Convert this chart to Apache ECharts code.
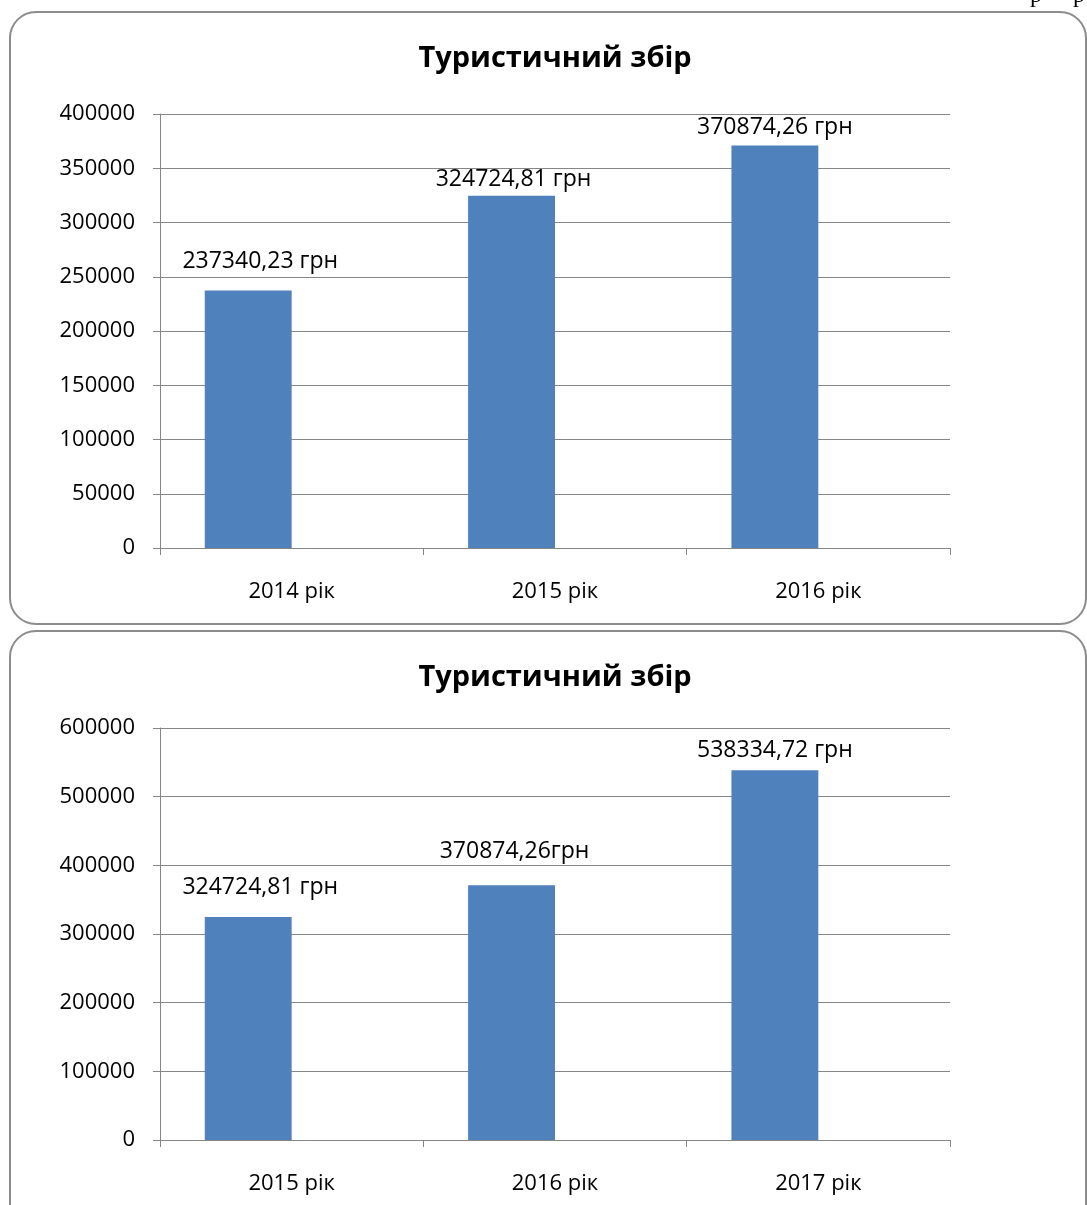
<!DOCTYPE html>
<html>
<head>
<meta charset="utf-8">
<script src="https://cdn.jsdelivr.net/npm/echarts@6/dist/echarts.min.js"></script>
<style>
html,body{margin:0;padding:0;background:#fff;}
#c{width:1087px;height:1205px;}
</style>
</head>
<body>
<div id="c"></div>
<script>
const titleText = "Туристичний збір";
const cats1 = ["2014 рік", "2015 рік", "2016 рік"];
const vals1 = [237340.23, 324724.81, 370874.26];
const labels1 = ["237340,23 грн", "324724,81 грн", "370874,26 грн"];
const cats2 = ["2015 рік", "2016 рік", "2017 рік"];
const vals2 = [324724.81, 370874.26, 538334.72];
const labels2 = ["324724,81 грн", "370874,26грн", "538334,72 грн"];
const yTicks1 = [0, 50000, 100000, 150000, 200000, 250000, 300000, 350000, 400000];
const yTicks2 = [0, 100000, 200000, 300000, 400000, 500000, 600000];

const FONT = "Open Sans";
const GRAY = "#868686";
const BAR = "#4F81BD";
// manual label nudges (as in the original chart)
const labelNudge1 = [[12, 2], [2, 15], [0, 13]];
const labelNudge2 = [[12, 2], [3, -2], [0, 12]];

const chart = echarts.init(document.getElementById('c'), null, {renderer: 'canvas'});

function yAxis(idx, ticks) {
  return {
    type: 'value', gridIndex: idx,
    min: ticks[0], max: ticks[ticks.length - 1], interval: ticks[1] - ticks[0],
    axisLine: {show: true, lineStyle: {color: GRAY, width: 1}},
    axisTick: {show: true, length: 7, lineStyle: {color: GRAY}},
    splitLine: {show: true, lineStyle: {color: GRAY, width: 1}},
    axisLabel: {color: '#000', fontFamily: FONT, fontSize: 22, margin: 25,
                formatter: v => String(v)}
  };
}
function xAxis(idx, cats) {
  return {
    type: 'category', gridIndex: idx, data: cats, boundaryGap: true,
    axisLine: {show: true, lineStyle: {color: GRAY, width: 1}},
    axisTick: {show: true, length: 7, alignWithLabel: false, interval: 0, lineStyle: {color: GRAY}},
    splitLine: {show: false},
    axisLabel: {color: '#000', fontFamily: FONT, fontSize: 22, margin: 33, interval: 0}
  };
}
function barSeries(idx, vals, labels, nudges) {
  return {
    type: 'bar', xAxisIndex: idx, yAxisIndex: idx,
    barWidth: '33%', barGap: '0%',
    itemStyle: {color: BAR},
    data: vals.map((v, i) => ({
      value: v,
      label: {offset: nudges[i]}
    })),
    label: {
      show: true, position: 'top', distance: 20,
      color: '#000', fontFamily: FONT, fontSize: 23,
      formatter: p => labels[p.dataIndex]
    }
  };
}
function emptySeries(idx, n) {
  return {
    type: 'bar', xAxisIndex: idx, yAxisIndex: idx,
    barWidth: '33%', barGap: '0%',
    data: new Array(n).fill(null), silent: true
  };
}

chart.setOption({
  animation: false,
  backgroundColor: '#fff',
  title: [
    {text: titleText, left: 555, top: 44, textAlign: 'center', padding: 0,
     textStyle: {fontFamily: FONT, fontWeight: 'bold', fontSize: 29, color: '#000'}},
    {text: titleText, left: 555, top: 663, textAlign: 'center', padding: 0,
     textStyle: {fontFamily: FONT, fontWeight: 'bold', fontSize: 29, color: '#000'}}
  ],
  grid: [
    {left: 160, width: 790, top: 114, height: 434, containLabel: false},
    {left: 160, width: 790, top: 728, height: 412, containLabel: false}
  ],
  xAxis: [xAxis(0, cats1), xAxis(1, cats2)],
  yAxis: [yAxis(0, yTicks1), yAxis(1, yTicks2)],
  series: [
    barSeries(0, vals1, labels1, labelNudge1), emptySeries(0, 3),
    barSeries(1, vals2, labels2, labelNudge2), emptySeries(1, 3)
  ],
  graphic: [
    {type: 'rect', shape: {x: 10, y: 12, width: 1076, height: 612, r: 26}, z: -1,
     style: {fill: 'none', stroke: '#8c8c8c', lineWidth: 2}},
    {type: 'rect', shape: {x: 10, y: 631, width: 1076, height: 620, r: 26}, z: -1,
     style: {fill: 'none', stroke: '#8c8c8c', lineWidth: 2}},
    {type: 'text', x: 1030, y: -16, z: 5,
     style: {text: 'р', fill: '#000', font: '24px "Liberation Serif"'}},
    {type: 'text', x: 1073, y: -16, z: 5,
     style: {text: 'р', fill: '#000', font: '24px "Liberation Serif"'}}
  ]
});
</script>
</body>
</html>
